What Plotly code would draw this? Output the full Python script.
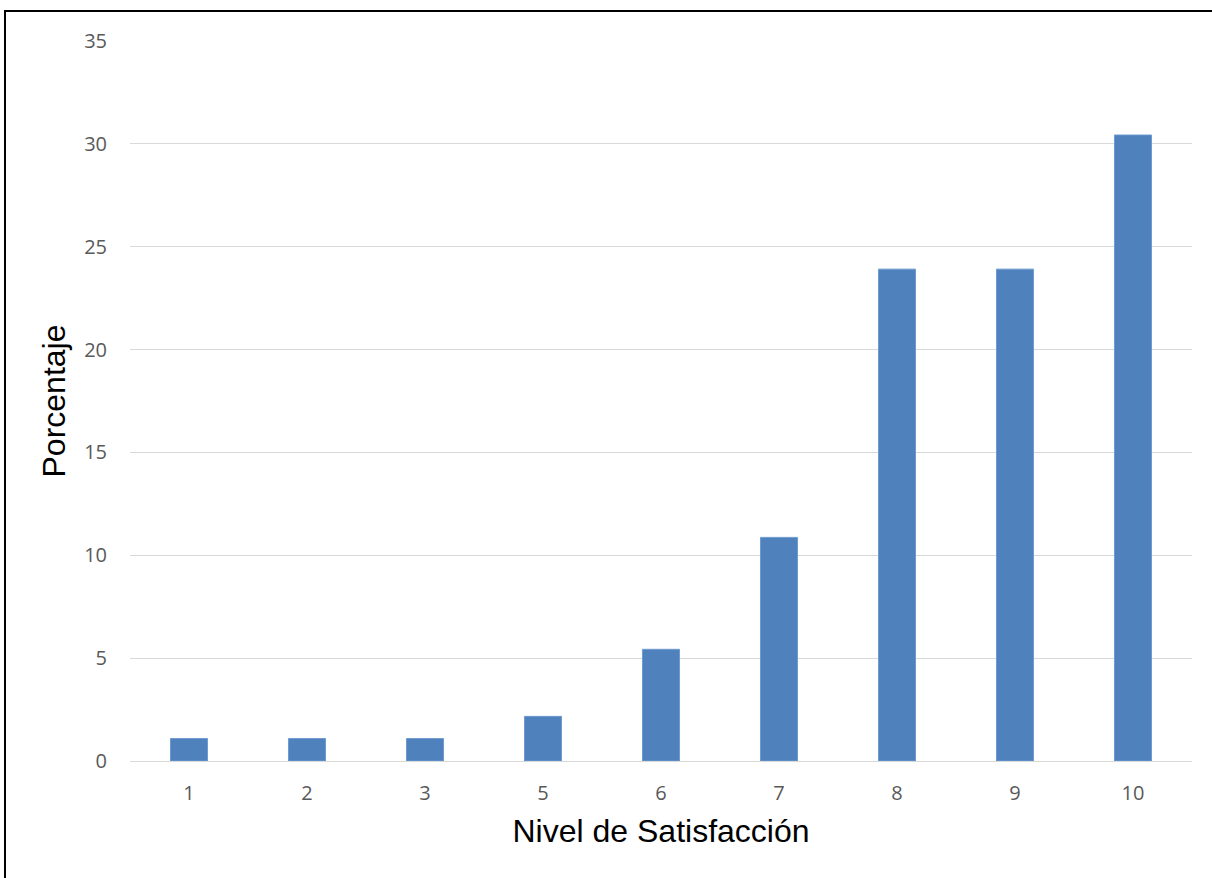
import plotly.graph_objects as go

niveles = ["1", "2", "3", "5", "6", "7", "8", "9", "10"]
porcentaje = [1.09, 1.09, 1.09, 2.17, 5.43, 10.87, 23.91, 23.91, 30.43]

fig = go.Figure(
    go.Bar(
        x=niveles,
        y=porcentaje,
        marker=dict(color="#4f81bd", line=dict(color="#6f9ad0", width=1)),
        hoverinfo="x+y",
    )
)

tick_font = dict(family="Open Sans, Noto Sans, sans-serif", size=20, color="#595959")
title_font = dict(family="Liberation Sans, Arial, sans-serif", size=32, color="#000000")

fig.update_layout(
    width=1212,
    height=878,
    margin=dict(l=130, r=20, t=41, b=117),
    paper_bgcolor="white",
    plot_bgcolor="white",
    bargap=0.686,
    showlegend=False,
    xaxis=dict(
        type="category",
        tickfont=tick_font,
        showgrid=False,
        showline=True,
        linecolor="#d9d9d9",
        linewidth=1,
        ticks="",
        ticklabelstandoff=14,
        title=dict(text="Nivel de Satisfacción", font=title_font, standoff=14),
    ),
    yaxis=dict(
        range=[0, 35],
        dtick=5,
        tickfont=tick_font,
        showgrid=True,
        gridcolor="#d9d9d9",
        gridwidth=1,
        zeroline=False,
        showline=False,
        ticks="",
        ticklabelstandoff=22,
        title=dict(text="Porcentaje", font=title_font, standoff=8),
    ),
    # frame around the chart; its right and bottom edges run past the page
    shapes=[
        dict(
            type="rect",
            xref="paper",
            yref="paper",
            x0=-0.1177,
            x1=1.05,
            y0=-0.2,
            y1=1.0417,
            line=dict(color="black", width=2),
            fillcolor="rgba(0,0,0,0)",
            layer="below",
        )
    ],
)

fig.write_html("out.html")
